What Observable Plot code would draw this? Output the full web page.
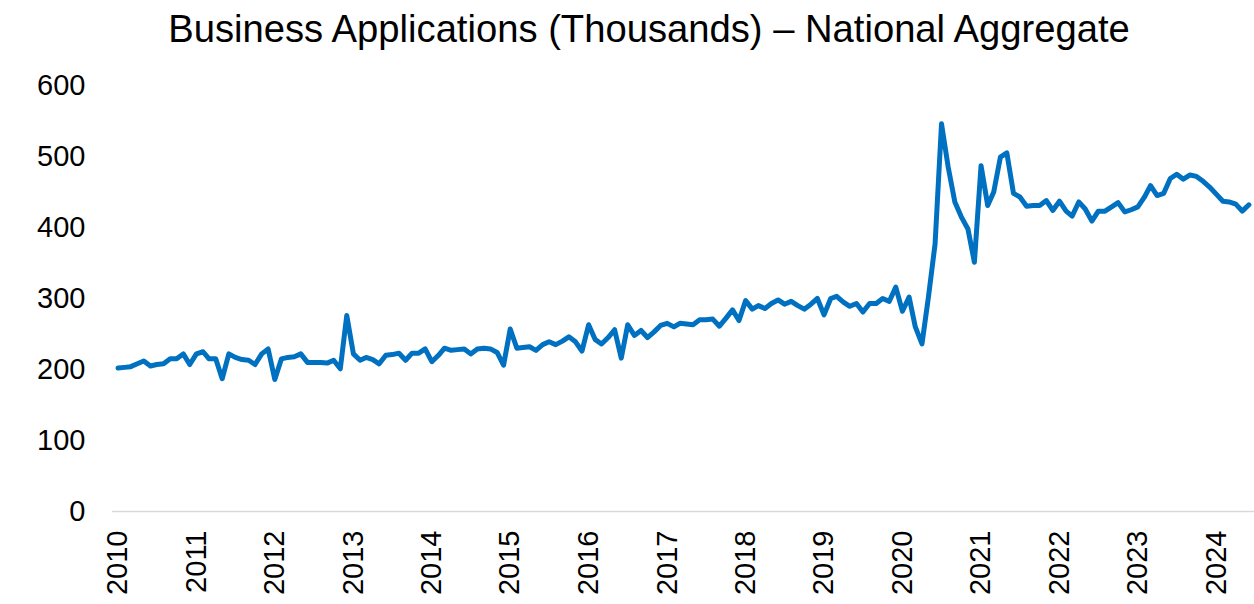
<!DOCTYPE html>
<html>
<head>
<meta charset="utf-8">
<script src="https://cdn.jsdelivr.net/npm/d3@7"></script>
<script src="https://cdn.jsdelivr.net/npm/@observablehq/plot@0.6"></script>
<style>
  html, body { margin: 0; padding: 0; background: #fff; }
  #wrap { position: relative; width: 1254px; height: 604px; overflow: hidden; font-family: "Liberation Sans", Arial, sans-serif; }
  #title { position: absolute; top: 9px; left: 649px; transform: translateX(-50%); white-space: nowrap;
           font-size: 38.2px; line-height: 40px; color: #000; }
  #chart { position: absolute; top: 56px; left: 0; }
</style>
</head>
<body>
<div id="wrap">
  <div id="title">Business Applications (Thousands) – National Aggregate</div>
  <div id="chart"></div>
</div>
<script>
// Monthly business applications (thousands), Jan 2010 – Jun 2024
const startYear = 2010;
const startMonth = 0; // January
const values = [
  202, 203, 204, 208, 212, 205, 207, 208, 215, 215, 222, 207, // 2010
  222, 225, 215, 215, 187, 222, 217, 214, 213, 207, 222, 229, // 2011
  186, 215, 217, 218, 222, 210, 210, 210, 209, 213, 201, 276, // 2012
  222, 213, 217, 214, 208, 220, 221, 223, 213, 223, 223, 229, // 2013
  211, 220, 230, 227, 228, 229, 222, 229, 230, 229, 224, 206, // 2014
  257, 230, 231, 232, 227, 235, 239, 235, 240, 246, 239, 226, // 2015
  263, 242, 236, 245, 256, 216, 263, 248, 255, 245, 253, 262, // 2016
  265, 260, 265, 264, 263, 270, 270, 271, 261, 272, 284, 269, // 2017
  297, 285, 290, 286, 293, 298, 292, 296, 290, 285, 292, 300, // 2018
  277, 300, 303, 295, 289, 293, 281, 293, 293, 300, 296, 316, // 2019
  282, 302, 260, 236, 302, 377, 546, 485, 436, 415, 398, 351, // 2020
  487, 431, 450, 499, 505, 448, 443, 430, 431, 431, 438, 424, // 2021
  437, 423, 416, 436, 426, 409, 423, 423, 429, 435, 422, 425, // 2022
  429, 443, 459, 445, 448, 469, 475, 468, 474, 472, 465, 457, // 2023
  447, 437, 436, 433, 423, 432                                 // 2024
];
const yearTicks = [2010, 2011, 2012, 2013, 2014, 2015, 2016, 2017, 2018, 2019, 2020, 2021, 2022, 2023, 2024];
const yTicks = [0, 100, 200, 300, 400, 500, 600];

const data = values.map((v, i) => ({ date: new Date(Date.UTC(startYear, startMonth + i, 1)), value: v }));
const firstDate = data[0].date;
const lastDate = data[data.length - 1].date;

const chart = Plot.plot({
  width: 1254,
  height: 548,
  marginTop: 29,
  marginBottom: 93,
  marginLeft: 112,
  marginRight: 0,
  style: { fontFamily: "'Liberation Sans', Arial, sans-serif", fontSize: "29px", color: "#000", background: "#fff", overflow: "visible" },
  x: {
    type: "utc",
    domain: [firstDate, lastDate],
    insetLeft: 5.5,
    insetRight: 5.6,
    ticks: yearTicks.map(y => new Date(Date.UTC(y, 0, 1))),
    tickFormat: d3.utcFormat("%Y"),
    tickRotate: -90,
    tickSize: 0,
    tickPadding: 19,
    label: null
  },
  y: {
    domain: [0, 600],
    ticks: yTicks,
    tickSize: 0,
    tickPadding: 27,
    label: null
  },
  marks: [
    Plot.ruleY([0], { stroke: "#d9d9d9", strokeWidth: 1.5 }),
    Plot.lineY(data, { x: "date", y: "value", stroke: "#0070C0", strokeWidth: 5, strokeLinejoin: "round", strokeLinecap: "round" })
  ]
});
document.getElementById("chart").appendChild(chart);
</script>
</body>
</html>
